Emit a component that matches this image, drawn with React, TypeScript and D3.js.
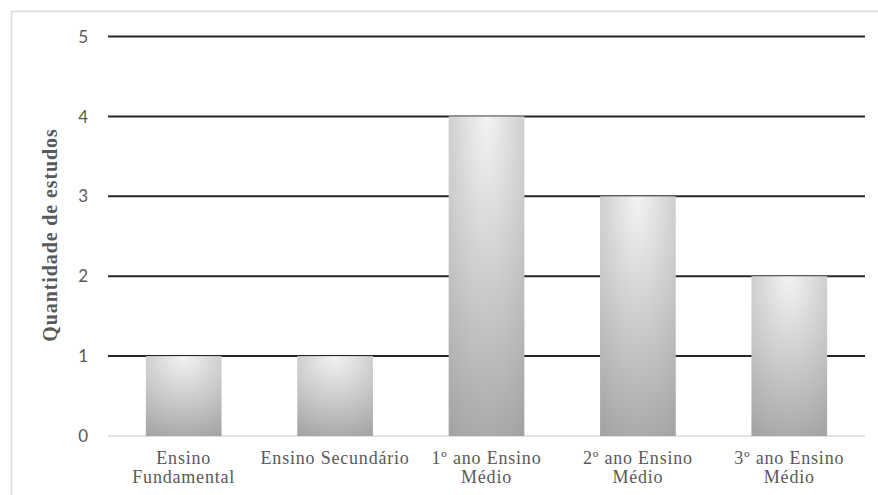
import React from "react";
import * as d3 from "d3";

const categories: string[][] = [
  ["Ensino", "Fundamental"],
  ["Ensino Secundário"],
  ["1º ano Ensino", "Médio"],
  ["2º ano Ensino", "Médio"],
  ["3º ano Ensino", "Médio"],
];
const values: number[] = [1, 1, 4, 3, 2];
const yTicks: number[] = [0, 1, 2, 3, 4, 5];
const yTitle = "Quantidade de estudos";

export default function App() {
  const W = 878, H = 495;
  const left = 108, right = 865, top = 36.5, bottom = 436;
  const x = d3.scaleBand<number>().domain(values.map((_, i) => i)).range([left, right]).paddingInner(0.5).paddingOuter(0.25);
  const y = d3.scaleLinear().domain([0, 5]).range([bottom, top]);
  return (
    <svg width={W} height={H} style={{ position: "absolute", left: 0, top: 0 }}>
      <defs>
        <radialGradient id="barGrad" cx="50%" cy="0%" r="110%" fx="50%" fy="0%">
          <stop offset="0%" stopColor="#f3f3f3" />
          <stop offset="100%" stopColor="#a3a3a3" />
        </radialGradient>
      </defs>
      <rect x={0} y={0} width={W} height={H} fill="#fff" />
      <rect x={11.5} y={11.5} width={W} height={H} fill="none" stroke="#d9d9d9" strokeWidth={1.5} />
      {yTicks.map((t) => (
        <g key={t}>
          <line x1={left} x2={right} y1={y(t)} y2={y(t)} stroke={t === 0 ? "#d9d9d9" : "#262626"} strokeWidth={t === 0 ? 1.5 : 2} />
          <text x={88} y={y(t)} dy="0.36em" textAnchor="end" fill="#595959" fontFamily="Lato, 'Open Sans', sans-serif" fontSize={17}>{t}</text>
        </g>
      ))}
      {values.map((v, i) => (
        <rect key={i} x={x(i)} y={y(v)} width={x.bandwidth()} height={y(0) - y(v)} fill="url(#barGrad)" />
      ))}
      {categories.map((lines, i) => (
        <text key={i} textAnchor="middle" fill="#595959" fontFamily="'Liberation Serif', 'Times New Roman', serif" fontSize={18} letterSpacing={0.8}>
          {lines.map((ln, j) => (
            <tspan key={j} x={(x(i) as number) + x.bandwidth() / 2} y={464 + j * 19}>{ln}</tspan>
          ))}
        </text>
      ))}
      <text transform={`translate(57, 235) rotate(-90)`} textAnchor="middle" fill="#595959" fontFamily="'Liberation Serif', 'Times New Roman', serif" fontWeight="bold" fontSize={20} letterSpacing={0.9}>{yTitle}</text>
    </svg>
  );
}
